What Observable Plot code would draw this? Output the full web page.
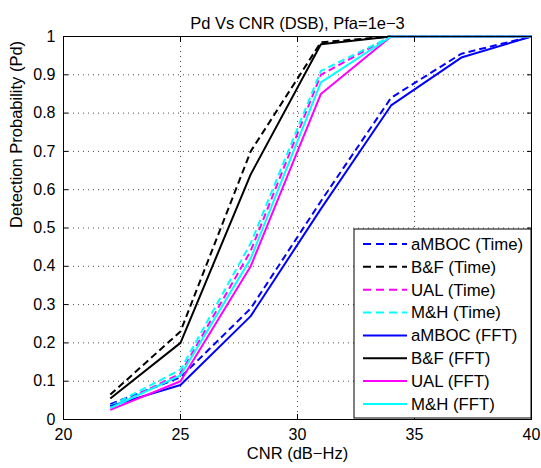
<!DOCTYPE html>
<html><head><meta charset="utf-8">
<script src="https://cdn.jsdelivr.net/npm/d3@7"></script>
<script src="https://cdn.jsdelivr.net/npm/@observablehq/plot@0.6"></script>
<style>
body{margin:0;background:#fff}
#chart svg{font-family:"Liberation Sans",Arial,Helvetica,sans-serif;}
</style>
</head><body><div id="chart"></div>
<script>
const titleText = "Pd Vs CNR (DSB), Pfa=1e\u22123";
const xLabel = "CNR (dB\u2212Hz)";
const yLabel = "Detection Probability (Pd)";
const cnr = [22, 25, 28, 31, 34, 37, 40];
const xTicks = [20, 25, 30, 35, 40];
const yTicks = [0, 0.1, 0.2, 0.3, 0.4, 0.5, 0.6, 0.7, 0.8, 0.9, 1];
const seriesNames = ["aMBOC (Time)", "B&F (Time)", "UAL (Time)", "M&H (Time)", "aMBOC (FFT)", "B&F (FFT)", "UAL (FFT)", "M&H (FFT)"];
const seriesColors = ["#0000ff", "#000000", "#ff00ff", "#00ffff", "#0000ff", "#000000", "#ff00ff", "#00ffff"];
const seriesDashed = [true, true, true, true, false, false, false, false];
const aMBOC_Time = [0.04, 0.11, 0.29, 0.57, 0.84, 0.955, 1];
const BF_Time    = [0.065, 0.23, 0.70, 0.985, 1, 1, 1];
const UAL_Time   = [0.03, 0.12, 0.44, 0.90, 1, 1, 1];
const MH_Time    = [0.035, 0.13, 0.46, 0.91, 1, 1, 1];
const aMBOC_FFT  = [0.035, 0.09, 0.27, 0.55, 0.82, 0.945, 1];
const BF_FFT     = [0.055, 0.20, 0.64, 0.98, 1, 1, 1];
const UAL_FFT    = [0.025, 0.10, 0.40, 0.85, 1, 1, 1];
const MH_FFT     = [0.03, 0.115, 0.42, 0.88, 1, 1, 1];
const seriesValues = [aMBOC_Time, BF_Time, UAL_Time, MH_Time, aMBOC_FFT, BF_FFT, UAL_FFT, MH_FFT];

const W = 541, H = 468;
const mL = 63, mR = 10, mT = 36, mB = 49;
const FT = 16;    // tick labels
const FL = 16.5;  // title / axis labels
const FG = 16.8;  // legend

const lineMarks = seriesValues.map((vals, i) => {
  const data = cnr.map((x, j) => ({x, y: vals[j]}));
  return Plot.line(data, {x: "x", y: "y", stroke: seriesColors[i], strokeWidth: 2,
    strokeDasharray: seriesDashed[i] ? "7,4" : null, strokeLinejoin: "miter", strokeLinecap: "butt"});
});

const chart = Plot.plot({
  width: W, height: H,
  marginLeft: mL, marginRight: mR, marginTop: mT, marginBottom: mB,
  style: {fontSize: FT + "px", background: "#fff", color: "#000", fontFamily: "Liberation Sans, Arial, sans-serif"},
  x: {domain: [20, 40]},
  y: {domain: [0, 1]},
  marks: [
    Plot.gridX(xTicks, {stroke: "#000", strokeOpacity: 0.7, strokeDasharray: "1,4"}),
    Plot.gridY(yTicks, {stroke: "#000", strokeOpacity: 0.7, strokeDasharray: "1,4"}),
    ...lineMarks,
    Plot.frame({stroke: "#000"}),
    Plot.axisX(xTicks, {anchor: "bottom", tickSize: 0, tickPadding: 9, label: null, fontSize: FT}),
    Plot.axisX(xTicks, {anchor: "bottom", tickSize: -5, tickFormat: () => "", label: null}),
    Plot.axisX(xTicks, {anchor: "top", tickSize: -5, tickFormat: () => "", label: null}),
    Plot.axisY(yTicks, {anchor: "left", tickSize: 0, tickPadding: 8, label: null, fontSize: FT, tickFormat: d => String(d)}),
    Plot.axisY(yTicks, {anchor: "left", tickSize: -5, tickFormat: () => "", label: null}),
    Plot.axisY(yTicks, {anchor: "right", tickSize: -5, tickFormat: () => "", label: null}),
    Plot.text([titleText], {frameAnchor: "top", dy: -19, fontSize: FL}),
    Plot.text([xLabel], {frameAnchor: "bottom", dy: 39, fontSize: FL}),
    Plot.text([yLabel], {frameAnchor: "left", dx: -47, rotate: -90, fontSize: FL})
  ]
});
document.getElementById("chart").appendChild(chart);

// Legend (MATLAB-style box inside plot area)
const svg = d3.select(chart);
const lg = svg.append("g").attr("text-anchor", "start");
const lx0 = 354, ly0 = 229, lx1 = 531, ly1 = 418;
lg.append("rect").attr("x", lx0).attr("y", ly0).attr("width", lx1 - lx0).attr("height", ly1 - ly0)
  .attr("fill", "#fff").attr("stroke", "#000").attr("stroke-width", 1);
seriesNames.forEach((name, i) => {
  const yy = 244 + i * 22.85;
  lg.append("line").attr("x1", 363).attr("x2", 407).attr("y1", yy).attr("y2", yy)
    .attr("stroke", seriesColors[i]).attr("stroke-width", 2)
    .attr("stroke-dasharray", seriesDashed[i] ? "8,5" : null);
  lg.append("text").attr("x", 411).attr("y", yy).attr("dy", "0.35em")
    .attr("text-anchor", "start")
    .attr("font-size", FG).attr("fill", "#000").text(name);
});
</script>
</body></html>
